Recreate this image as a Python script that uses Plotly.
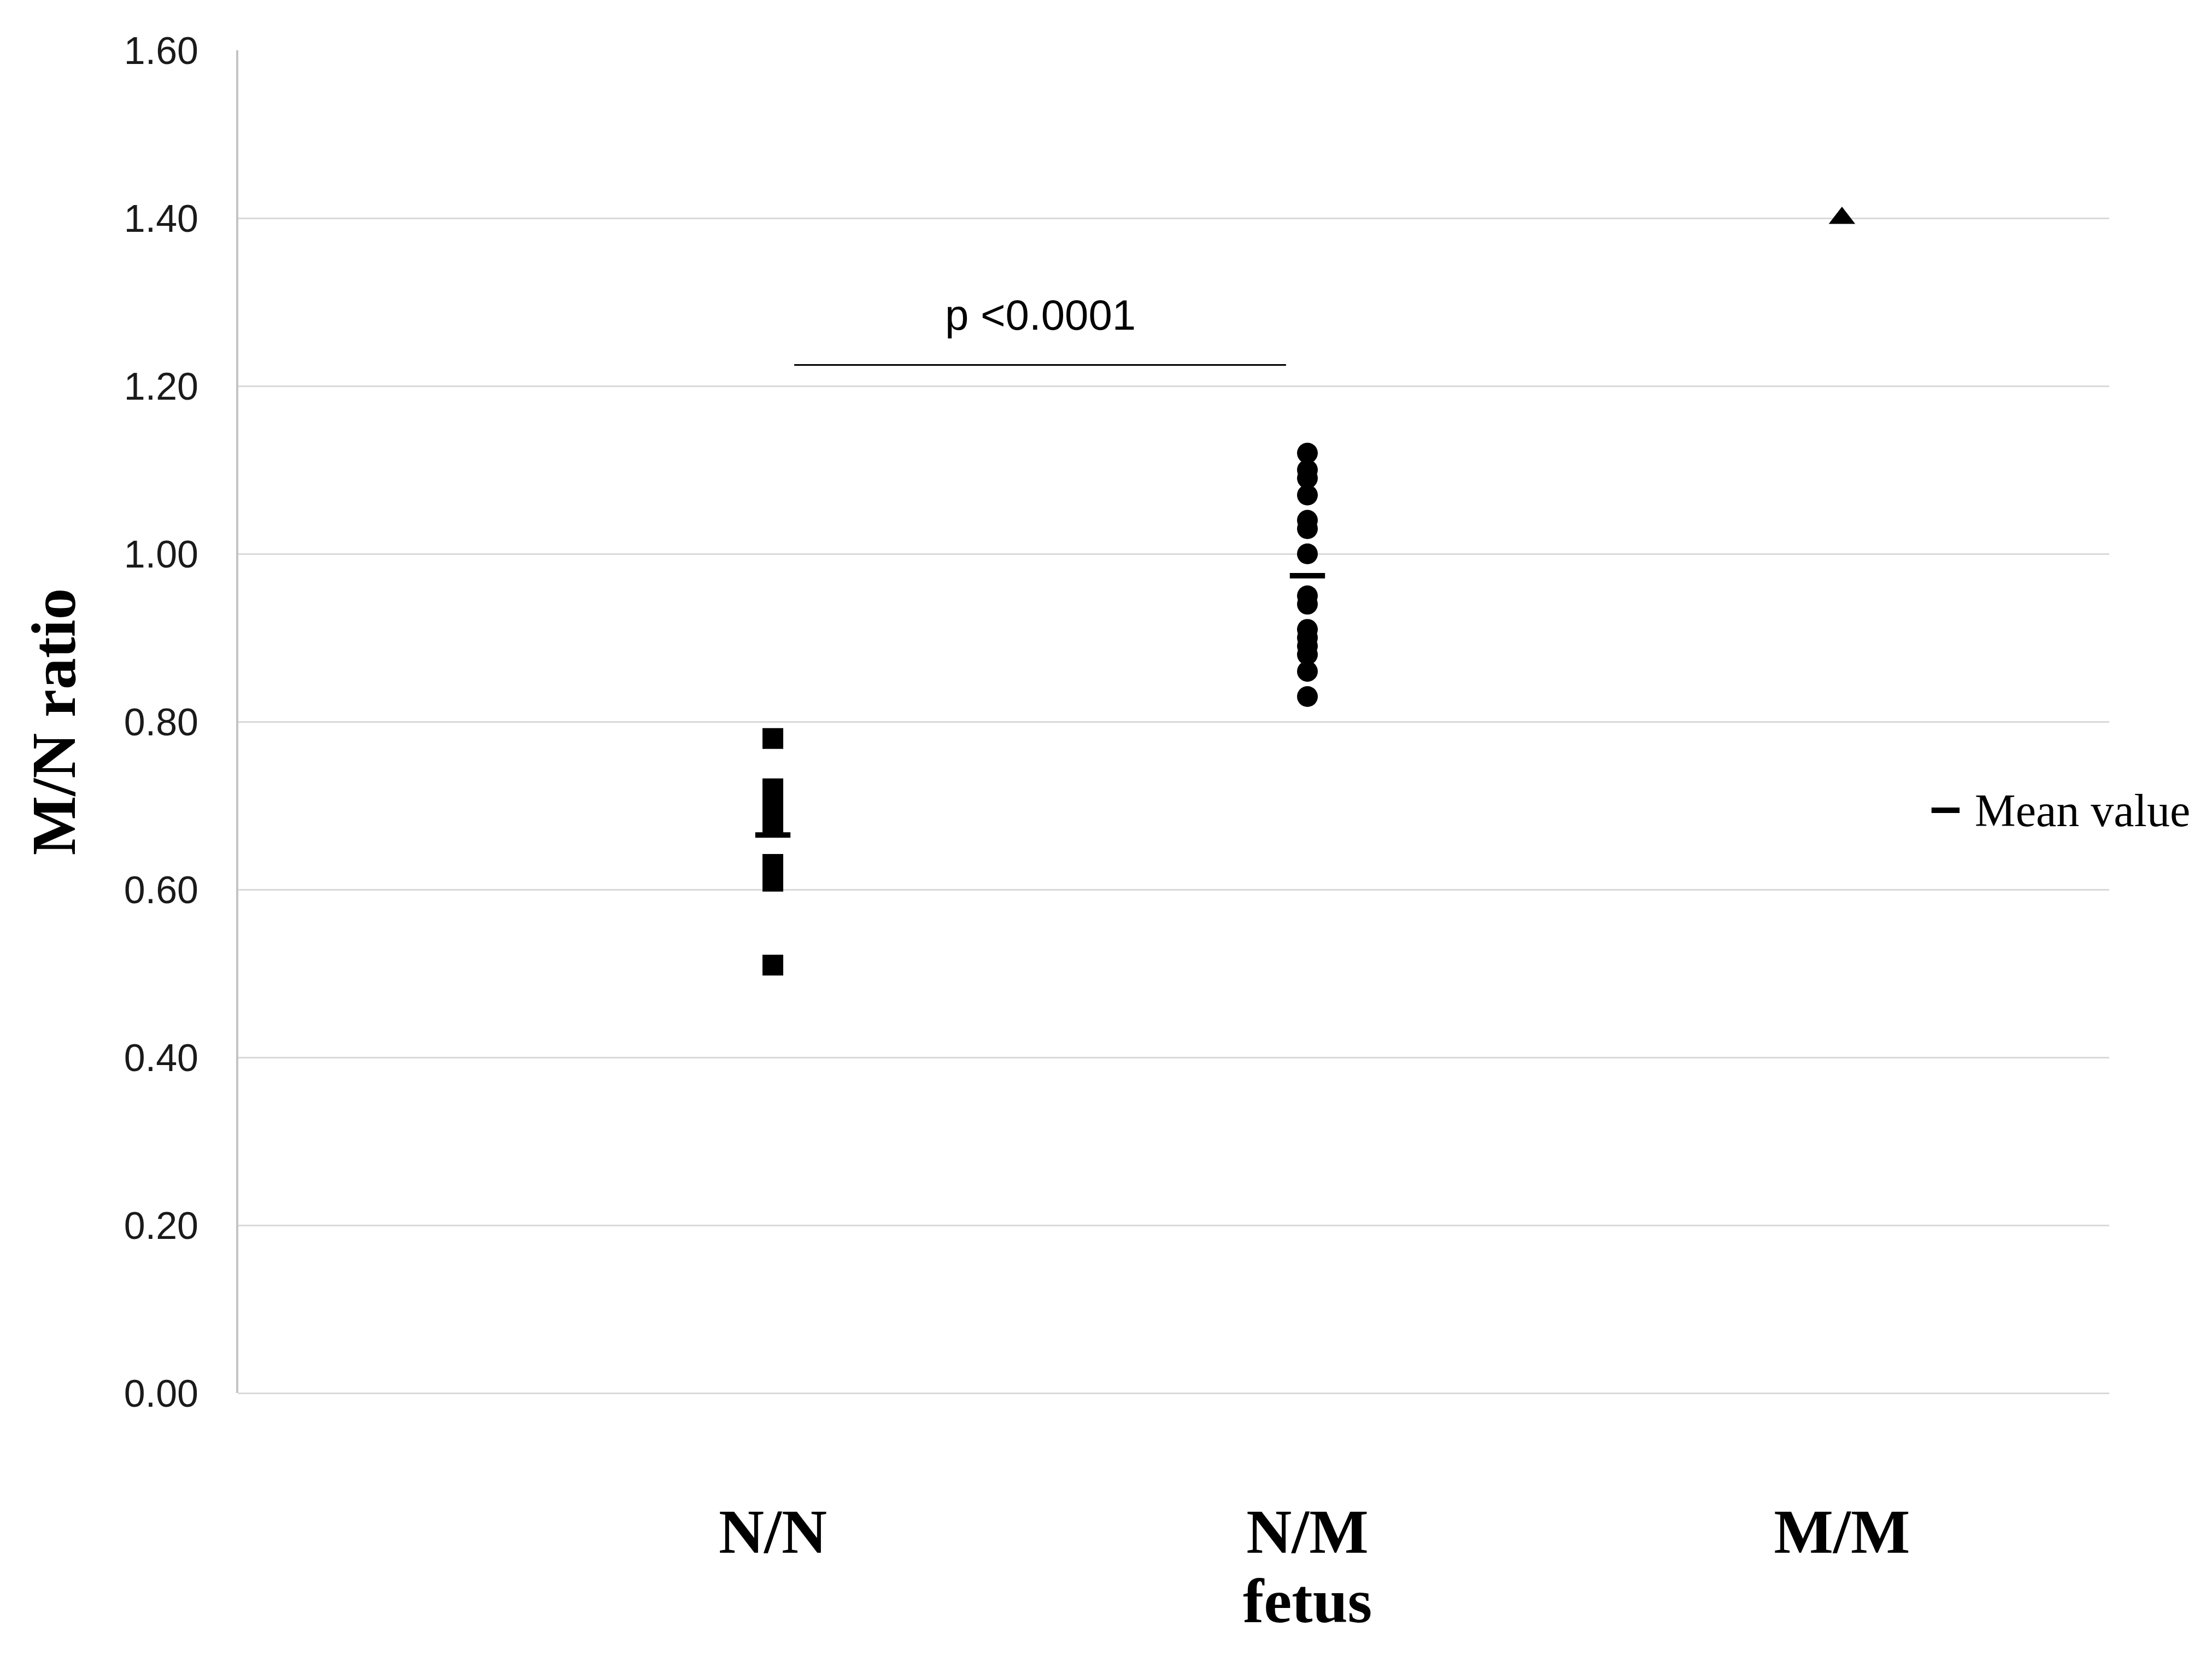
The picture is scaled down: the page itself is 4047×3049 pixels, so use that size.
import plotly.graph_objects as go

# groups along the x axis (Excel-style scatter at x = 1, 2, 3)
categories = ["N/N", "N/M", "M/M"]
cat_x = [1, 2, 3]
x_title = "fetus"

# M/N ratio per sample
nn_ratio = [0.78, 0.72, 0.71, 0.70, 0.69, 0.68, 0.63, 0.62, 0.61, 0.51]
nm_ratio = [1.12, 1.10, 1.09, 1.07, 1.04, 1.03, 1.00, 0.95, 0.94,
            0.91, 0.90, 0.89, 0.88, 0.86, 0.83]
mm_ratio = [1.40]

y_ticks = [0.0, 0.2, 0.4, 0.6, 0.8, 1.0, 1.2, 1.4, 1.6]

p_label = "p <0.0001"
p_bar_y = 1.225
p_text_y = 1.285

mean_nn = sum(nn_ratio) / len(nn_ratio)
mean_nm = sum(nm_ratio) / len(nm_ratio)

fig = go.Figure()

fig.add_trace(go.Scatter(
    x=[cat_x[0]] * len(nn_ratio), y=nn_ratio, mode="markers",
    marker=dict(symbol="square", size=38, color="black", line=dict(width=0)),
))
fig.add_trace(go.Scatter(
    x=[cat_x[1]] * len(nm_ratio), y=nm_ratio, mode="markers",
    marker=dict(symbol="circle", size=38, color="black", line=dict(width=0)),
))
fig.add_trace(go.Scatter(
    x=[cat_x[2]] * len(mm_ratio), y=mm_ratio, mode="markers",
    marker=dict(symbol="triangle-up", size=42, color="black", line=dict(width=0)),
))
# mean bars (line symbols are drawn 1.4x the marker size)
fig.add_trace(go.Scatter(
    x=cat_x[:2], y=[mean_nn, mean_nm], mode="markers",
    marker=dict(symbol="line-ew", size=46, color="black",
                line=dict(width=10, color="black")),
))

# significance bar
fig.add_shape(type="line", xref="x", yref="y",
              x0=1.04, x1=1.96, y0=p_bar_y, y1=p_bar_y,
              line=dict(color="black", width=3))
fig.add_annotation(x=1.5, y=p_text_y, xref="x", yref="y", text=p_label,
                   showarrow=False, yanchor="middle",
                   font=dict(family="Liberation Sans", size=78, color="black"))

# legend for the mean marker
fig.add_shape(type="line", xref="paper", yref="paper",
              x0=0.905, x1=0.920, y0=0.434, y1=0.434,
              line=dict(color="black", width=10))
fig.add_annotation(x=0.9275, y=0.434, xref="paper", yref="paper",
                   text="Mean value", showarrow=False,
                   xanchor="left", yanchor="middle",
                   font=dict(family="Liberation Serif", size=84, color="black"))

serif_bold = dict(family="Liberation Serif", size=115, color="black", weight="bold")

# x axis title sits under the N/M group in the original
fig.add_annotation(x=cat_x[1], y=-0.155, xref="x", yref="paper",
                   text=x_title, showarrow=False, yanchor="middle",
                   font=serif_bold)

fig.update_layout(
    width=4047, height=3049, autosize=False,
    margin=dict(l=428, r=196, t=84, b=509),
    plot_bgcolor="white", paper_bgcolor="white",
    showlegend=False,
)
fig.update_xaxes(
    range=[0, 3.5], tickvals=cat_x, ticktext=categories,
    tickfont=serif_bold, ticks="", ticklabelstandoff=176,
    showgrid=False, zeroline=False, showline=False,
)
fig.update_yaxes(
    range=[0, 1.6], tickvals=y_ticks, tickformat=".2f",
    tickfont=dict(family="Liberation Sans", size=70, color="#1a1a1a"),
    ticks="", ticklabelstandoff=55,
    showgrid=True, gridcolor="#d9d9d9", gridwidth=3,
    zeroline=True, zerolinecolor="#d9d9d9", zerolinewidth=3,
    showline=True, linecolor="#c4c4c4", linewidth=4,
    title=dict(text="M/N ratio", font=serif_bold, standoff=52),
)

fig.write_html("out.html")
